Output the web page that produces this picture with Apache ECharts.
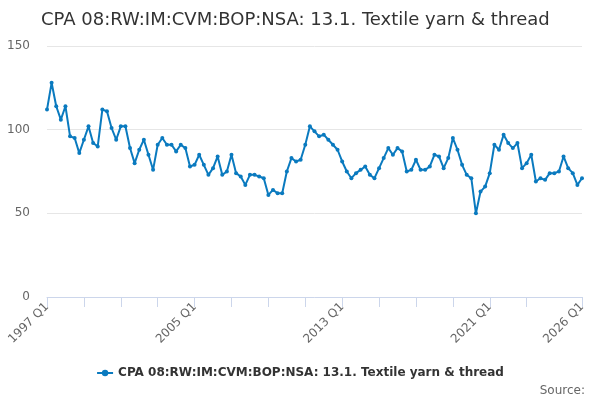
<!DOCTYPE html>
<html>
<head>
<meta charset="utf-8">
<script src="https://cdn.jsdelivr.net/npm/echarts@6/dist/echarts.min.js"></script>
<style>
  html, body { margin: 0; padding: 0; background: #fff; }
  #chart { width: 600px; height: 400px; }
</style>
</head>
<body>
<div id="chart"></div>
<script>
// Quarterly categories 1997 Q1 .. 2026 Q1
var quarters = [];
for (var y = 1997; y <= 2026; y++) {
    for (var q = 1; q <= 4; q++) {
        if (y === 2026 && q > 1) break;
        quarters.push(y + ' Q' + q);
    }
}

var seriesName = 'CPA 08:RW:IM:CVM:BOP:NSA: 13.1. Textile yarn & thread';

var values1997to2002 = [112, 128, 114, 106, 114, 96, 95, 86, 94, 102, 92, 90, 112, 111, 101, 94, 102, 102, 89, 80, 88, 94, 85, 76];
var values2003to2008 = [91, 95, 91, 91, 87, 91, 89, 78, 79, 85, 79, 73, 77, 84, 73, 75, 85, 74, 72, 67, 73, 73, 72, 71];
var values2009to2014 = [61, 64, 62, 62, 75, 83, 81, 82, 91, 102, 99, 96, 97, 94, 91, 88, 81, 75, 71, 74, 76, 78, 73, 71];
var values2015to2020 = [77, 83, 89, 85, 89, 87, 75, 76, 82, 76, 76, 78, 85, 84, 77, 83, 95, 88, 79, 73, 71, 50, 63, 66];
var values2021to2026 = [74, 91, 88, 97, 92, 89, 92, 77, 80, 85, 69, 71, 70, 74, 74, 75, 84, 77, 74, 67, 71];

var values = [].concat(values1997to2002, values2003to2008, values2009to2014, values2015to2020, values2021to2026);

var yTicks = [0, 50, 100, 150];

var myChart = echarts.init(document.getElementById('chart'));
var option = {
    animation: false,
    textStyle: { fontFamily: 'DejaVu Sans' },
    title: [
        {
            text: 'CPA 08:RW:IM:CVM:BOP:NSA: 13.1. Textile yarn & thread',
            left: 36,
            top: 6,
            textStyle: { fontSize: 18, fontWeight: 'normal', color: '#333333', fontFamily: 'DejaVu Sans' }
        },
        {
            text: 'Source:',
            right: 10,
            top: 380,
            textStyle: { fontSize: 12, fontWeight: 'normal', color: '#666666', fontFamily: 'DejaVu Sans' }
        }
    ],
    legend: {
        bottom: 16,
        left: 'center',
        itemWidth: 16,
        itemHeight: 8,
        textStyle: { fontSize: 12, fontWeight: 'bold', color: '#333333', fontFamily: 'DejaVu Sans' },
        data: [seriesName]
    },
    grid: {
        left: 47,
        right: 18,
        top: 46,
        bottom: 103,
        containLabel: false
    },
    xAxis: {
        type: 'category',
        data: quarters,
        boundaryGap: false,
        axisLine: { lineStyle: { color: '#ccd6eb' } },
        axisTick: {
            length: 10,
            lineStyle: { color: '#ccd6eb' },
            interval: function (index) {
                return (index % 8 === 0 && index <= 104) || index === quarters.length - 1;
            }
        },
        axisLabel: {
            rotate: 45,
            color: '#666666',
            fontSize: 12,
            margin: 8,
            interval: function (index) {
                return index % 32 === 0 || index === quarters.length - 1;
            }
        },
        splitLine: { show: false }
    },
    yAxis: {
        type: 'value',
        min: yTicks[0],
        max: yTicks[yTicks.length - 1],
        interval: 50,
        axisLine: { show: false },
        axisTick: { show: false },
        axisLabel: { color: '#666666', fontSize: 12, margin: 17 },
        splitLine: { lineStyle: { color: '#e6e6e6' } }
    },
    series: [
        {
            name: seriesName,
            type: 'line',
            data: values,
            symbol: 'circle',
            symbolSize: 4,
            showAllSymbol: true,
            itemStyle: { color: '#0a7abf' },
            lineStyle: { width: 2, color: '#0a7abf' }
        }
    ]
};

myChart.setOption(option);
window.addEventListener("resize", function () {
    myChart.resize();
});
</script>
</body>
</html>
